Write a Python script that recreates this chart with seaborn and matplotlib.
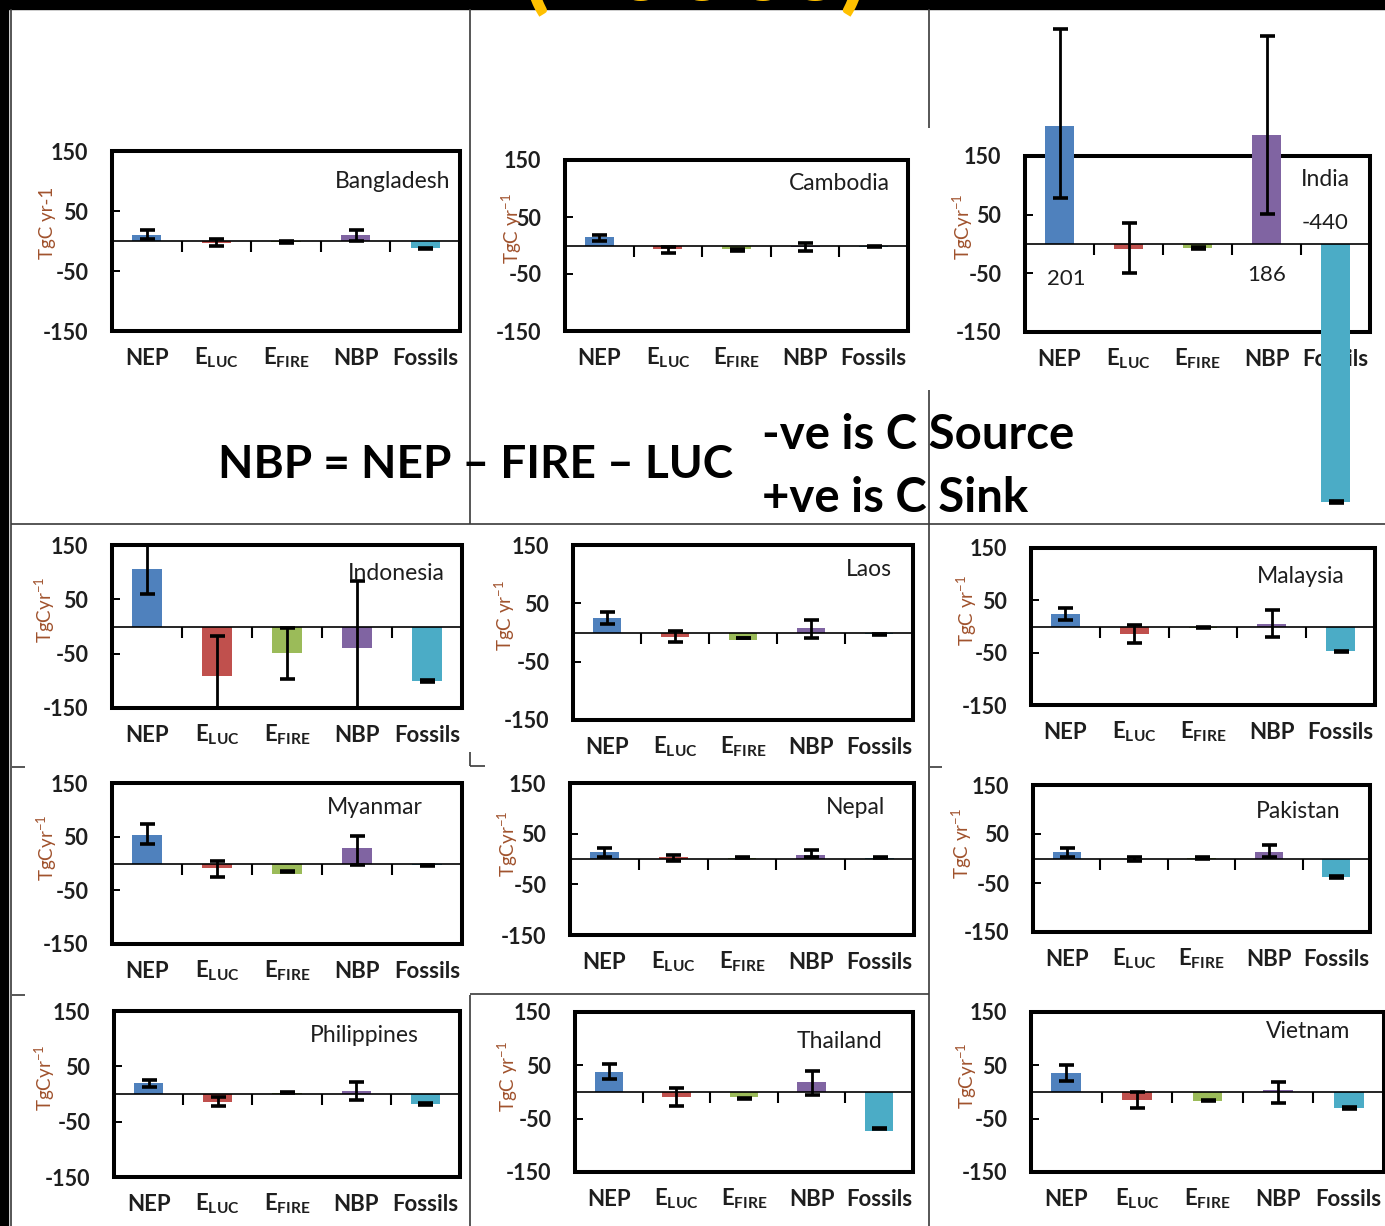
import matplotlib
matplotlib.use("Agg")
import numpy as np
import matplotlib.pyplot as plt
import matplotlib.transforms as mtransforms
from matplotlib.lines import Line2D
from matplotlib.patches import Rectangle
import seaborn as sns

sns.set_style("white")
plt.rcParams["font.family"] = ["Lato", "DejaVu Sans"]
plt.rcParams["mathtext.fontset"] = "custom"
plt.rcParams["mathtext.rm"] = "Lato"
plt.rcParams["mathtext.bf"] = "Lato:bold"
plt.rcParams["mathtext.it"] = "Lato:italic"

# ---- data (TgC yr-1) ----
categories = ["NEP", "E_LUC", "E_FIRE", "NBP", "Fossils"]
category_labels = ["NEP", r"$\mathbf{E}_{\mathbf{LUC}}$", r"$\mathbf{E}_{\mathbf{FIRE}}$", "NBP", "Fossils"]
bar_colors = ["#4F81BD", "#C0504D", "#9BBB59", "#8064A2", "#4BACC6"]

countries = ["Bangladesh", "Cambodia", "India",
             "Indonesia", "Laos", "Malaysia",
             "Myanmar", "Nepal", "Pakistan",
             "Philippines", "Thailand", "Vietnam"]

bangladesh = [10, -4, -2, 10, -12]
bangladesh_lo = [4, -8, -3, 0, -14]
bangladesh_hi = [19, 4, 0, 19, -11]

cambodia = [15, -7, -6, -3, -2]
cambodia_lo = [8, -14, -10, -10, -3]
cambodia_hi = [19, -2, -7, 4, -1]

india = [201, -8, -6, 186, -440]
india_lo = [78, -50, -9, 51, -442]
india_hi = [367, 35, -5, 355, -438]

indonesia = [106, -92, -49, -40, -100]
indonesia_lo = [60, -166, -97, -165, -102]
indonesia_hi = [190, -18, -2, 84, -98]

laos = [25, -8, -12, 8, -2]
laos_lo = [15, -16, -10, -10, -4]
laos_hi = [35, 2, -9, 22, -2]

malaysia = [24, -15, -2, 5, -47]
malaysia_lo = [13, -31, -3, -20, -49]
malaysia_hi = [35, 3, -1, 31, -46]

myanmar = [53, -9, -19, 28, -3]
myanmar_lo = [37, -26, -16, -2, -4]
myanmar_hi = [74, 4, -14, 51, -2]

nepal = [14, 3, 2, 8, 2]
nepal_lo = [3, -4, 1, 3, 1]
nepal_hi = [22, 8, 3, 18, 3]

pakistan = [13, -2, 2, 14, -37]
pakistan_lo = [4, -6, 0, 4, -39]
pakistan_hi = [22, 3, 3, 27, -35]

philippines = [19, -14, 2, 5, -18]
philippines_lo = [13, -21, 2, -11, -20]
philippines_hi = [26, -6, 4, 21, -17]

thailand = [37, -10, -10, 19, -73]
thailand_lo = [24, -26, -13, -6, -70]
thailand_hi = [53, 8, -11, 39, -67]

vietnam = [35, -15, -16, 3, -30]
vietnam_lo = [20, -30, -17, -20, -32]
vietnam_hi = [50, 0, -15, 18, -29]

values = [bangladesh, cambodia, india, indonesia, laos, malaysia,
          myanmar, nepal, pakistan, philippines, thailand, vietnam]
err_lo = [bangladesh_lo, cambodia_lo, india_lo, indonesia_lo, laos_lo, malaysia_lo,
          myanmar_lo, nepal_lo, pakistan_lo, philippines_lo, thailand_lo, vietnam_lo]
err_hi = [bangladesh_hi, cambodia_hi, india_hi, indonesia_hi, laos_hi, malaysia_hi,
          myanmar_hi, nepal_hi, pakistan_hi, philippines_hi, thailand_hi, vietnam_hi]

y_ticks = [150, 50, -50, -150]
y_labels = ["TgC yr-1", r"TgC yr$^{-1}$", r"TgCyr$^{-1}$",
            r"TgCyr$^{-1}$", r"TgC yr$^{-1}$", r"TgC yr$^{-1}$",
            r"TgCyr$^{-1}$", r"TgCyr$^{-1}$", r"TgC yr$^{-1}$",
            r"TgCyr$^{-1}$", r"TgC yr$^{-1}$", r"TgCyr$^{-1}$"]

# ---- layout (pixels on a 1385 x 1226 canvas) ----
W, H = 1385, 1226
# plot boxes: left, top, right, bottom
boxes = [(112, 151, 460, 331), (565, 160, 908, 331), (1025, 156, 1370, 332),
         (112, 545, 462, 708), (573, 545, 913, 720), (1031, 548, 1375, 705),
         (112, 783, 462, 944), (570, 783, 914, 935), (1033, 785, 1370, 932),
         (114, 1011, 460, 1177), (575, 1012, 913, 1172), (1031, 1012, 1384, 1172)]
# country name anchor: right edge x, centre y
name_pos = [(450, 181), (890, 184), (1350, 179),
            (445, 573), (892, 569), (1345, 576),
            (423, 808), (885, 808), (1340, 811),
            (419, 1036), (882, 1041), (1350, 1031)]
# y-axis title centre x
ylab_x = [47, 512, 963, 45, 505, 967, 47, 508, 962, 45, 508, 967]
unclipped = {"India"}

fig = plt.figure(figsize=(W / 100, H / 100), dpi=100)
fig.patch.set_facecolor("white")

TXT = "#1e1e1e"

for k, country in enumerate(countries):
    l, t, r, b = boxes[k]
    wpx, hpx = r - l, b - t
    ax = fig.add_axes([l / W, 1 - b / H, wpx / W, hpx / H])
    ax.set_facecolor("none")
    vals = np.array(values[k], dtype=float)
    lo = np.array(err_lo[k], dtype=float)
    hi = np.array(err_hi[k], dtype=float)

    sns.barplot(x=categories, y=vals, hue=categories, palette=bar_colors,
                legend=False, width=0.42, saturation=1, ax=ax, zorder=4,
                linewidth=0)
    eb = ax.errorbar(np.arange(5), (lo + hi) / 2, yerr=(hi - lo) / 2, fmt="none",
                     ecolor="black", elinewidth=2.0, capsize=5.4, capthick=2.6,
                     zorder=6)
    ax.set_xlim(-0.5, 4.5)
    ax.set_ylim(-150, 150)
    ax.set_xlabel("")
    ax.set_ylabel("")

    if country in unclipped:
        for p in ax.patches:
            p.set_clip_on(False)
        for child in eb.get_children():
            child.set_clip_on(False)

    # frame around the plot area
    ax.add_patch(Rectangle((0, 0), 1, 1, transform=ax.transAxes, fill=False,
                           lw=2.9, ec="black", zorder=3, clip_on=False))
    for s in ["top", "right", "left"]:
        ax.spines[s].set_visible(False)
    ax.spines["bottom"].set_position(("data", 0))
    ax.spines["bottom"].set_linewidth(1.2)
    ax.spines["bottom"].set_color("black")
    ax.spines["bottom"].set_zorder(5)

    ax.set_yticks(y_ticks)
    ax.set_yticklabels([str(v) for v in y_ticks])
    ax.tick_params(axis="y", direction="in", length=6, width=1.4, pad=17,
                   labelsize=15.5, labelcolor=TXT, color="black", left=True)
    for lbl in ax.get_yticklabels():
        lbl.set_fontweight("bold")

    ax.set_xticks(range(5))
    ax.set_xticklabels([])
    ax.tick_params(axis="x", which="major", length=0, bottom=True)
    ax.set_xticks([0.5, 1.5, 2.5, 3.5], minor=True)
    ax.tick_params(axis="x", which="minor", direction="out", length=8,
                   width=1.5, color="black", bottom=True)

    trans = mtransforms.blended_transform_factory(ax.transData, ax.transAxes)
    for i, lab in enumerate(category_labels):
        ax.text(i, -34 / hpx, lab, transform=trans, ha="center", va="baseline",
                fontsize=16, fontweight="bold", color=TXT, zorder=2,
                clip_on=False)

    nx, ny = name_pos[k]
    ax.text((nx - l) / wpx, (b - ny) / hpx, country, transform=ax.transAxes,
            ha="right", va="center", fontsize=16.5, color=TXT, zorder=7)

    ax.text((ylab_x[k] - l) / wpx, 0.6, y_labels[k], transform=ax.transAxes,
            rotation=90, ha="center", va="center", fontsize=13.5,
            color="#A0522D", clip_on=False)

    if country == "India":
        ax.text(0.1, -59, f"{vals[0]:.0f}", ha="center", va="center",
                fontsize=16, color=TXT, zorder=7)
        ax.text(3.0, -53, f"{vals[3]:.0f}", ha="center", va="center",
                fontsize=16, color=TXT, zorder=7)
        ax.text(3.85, 35, f"{vals[4]:.0f}", ha="center", va="center",
                fontsize=16, color=TXT, zorder=7)


# ---- page furniture ----
def fline(x0, y0, x1, y1, lw=1.2, color="#3a3a3a"):
    fig.add_artist(Line2D([x0 / W, x1 / W], [1 - y0 / H, 1 - y1 / H],
                          transform=fig.transFigure, lw=lw, color=color,
                          solid_capstyle="butt"))


fig.add_artist(Rectangle((0, 1 - 9 / H), 1, 9 / H, transform=fig.transFigure,
                         color="black", zorder=0))
fig.add_artist(Rectangle((0, 0), 8 / W, 1, transform=fig.transFigure,
                         color="black", zorder=0))
# heading sitting mostly above the top edge of the page
fig.text(695 / W, 1 - 0.5 / H, "(2000s)", ha="center", va="baseline",
         fontsize=76, fontweight="bold", color="#FFC000")

fline(11, 9, 11, H)
fline(470, 9, 470, 524)
fline(470, 995, 470, H)
fline(929, 9, 929, 128)
fline(929, 390, 929, H)
fline(11, 524, W, 524)
fline(470, 994, 929, 994)
# small corner marks
fline(470, 752, 470, 766)
fline(470, 766, 485, 766)
fline(12, 767, 25, 767)
fline(930, 767, 942, 767)
fline(12, 995, 25, 995)

fig.text(218 / W, 1 - 465 / H, "NBP = NEP \u2013 FIRE \u2013 LUC", ha="left",
         va="center", fontsize=33, fontweight="bold", color="black")
fig.text(762 / W, 1 - 435 / H, "-ve is C Source", ha="left", va="center",
         fontsize=34, fontweight="bold", color="black")
fig.text(762 / W, 1 - 498 / H, "+ve is C Sink", ha="left", va="center",
         fontsize=34, fontweight="bold", color="black")

fig.savefig("out.png", dpi=100)
